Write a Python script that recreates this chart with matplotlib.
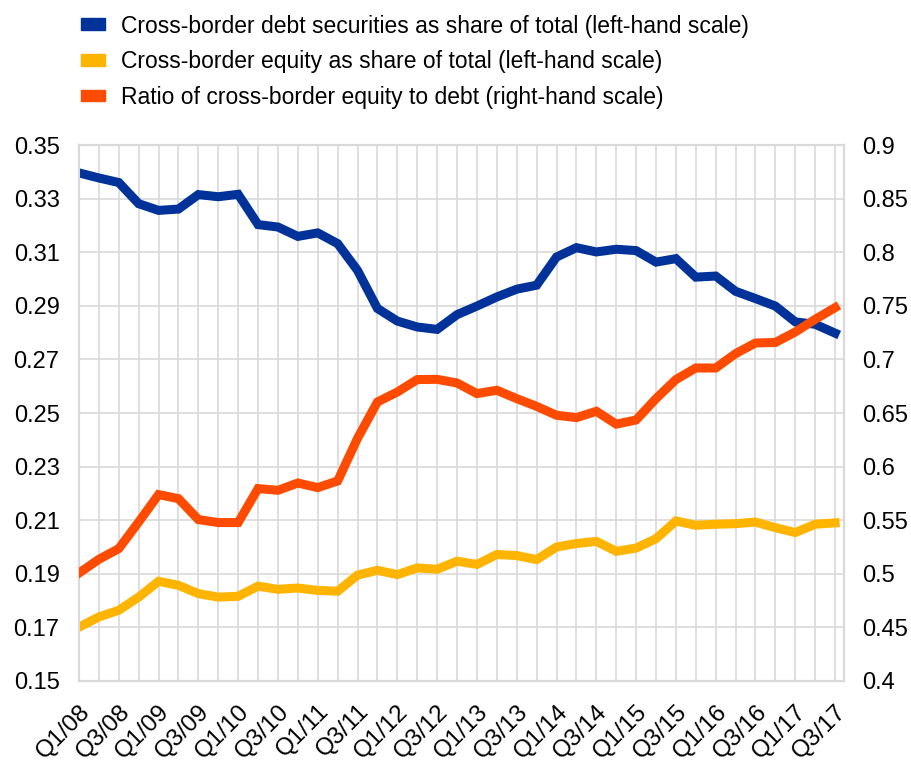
import matplotlib
matplotlib.use("Agg")
import numpy as np
import matplotlib.pyplot as plt
from matplotlib.patches import Patch

plt.rcParams['font.family'] = ['Liberation Sans', 'DejaVu Sans']

# quarters Q1/08 .. Q3/17
quarters = [f"Q{q}/{y:02d}" for y in range(8, 18) for q in range(1, 5)][:39]

debt_share = [0.3396, 0.3377, 0.3360, 0.3281, 0.3256, 0.3261, 0.3315, 0.3307, 0.3316, 0.3203,
              0.3194, 0.3159, 0.3172, 0.3132, 0.3032, 0.2890, 0.2843, 0.2821, 0.2812, 0.2867,
              0.2899, 0.2933, 0.2962, 0.2977, 0.3082, 0.3117, 0.3101, 0.3111, 0.3106, 0.3063,
              0.3076, 0.3007, 0.3011, 0.2954, 0.2927, 0.2899, 0.2840, 0.2831, 0.2798]

equity_share = [0.1701, 0.1739, 0.1764, 0.1813, 0.1872, 0.1857, 0.1826, 0.1813, 0.1816, 0.1854,
                0.1842, 0.1847, 0.1838, 0.1835, 0.1895, 0.1913, 0.1897, 0.1922, 0.1917, 0.1947,
                0.1935, 0.1972, 0.1968, 0.1953, 0.2000, 0.2013, 0.2021, 0.1984, 0.1996, 0.2031,
                0.2097, 0.2081, 0.2085, 0.2087, 0.2093, 0.2072, 0.2054, 0.2085, 0.2090]

ratio = [0.5007, 0.5135, 0.5235, 0.5483, 0.5739, 0.5701, 0.5506, 0.5478, 0.5478, 0.5795,
         0.5779, 0.5847, 0.5804, 0.5866, 0.6264, 0.6603, 0.6696, 0.6812, 0.6814, 0.6780,
         0.6681, 0.6712, 0.6634, 0.6562, 0.6479, 0.6457, 0.6516, 0.6396, 0.6435, 0.6634,
         0.6812, 0.6920, 0.6920, 0.7054, 0.7153, 0.7158, 0.7256, 0.7374, 0.7483]

labels = ["Cross-border debt securities as share of total (left-hand scale)",
          "Cross-border equity as share of total (left-hand scale)",
          "Ratio of cross-border equity to debt (right-hand scale)"]
colors = ["#003299", "#FFB400", "#FF4B00"]

left_ticks = np.arange(0.15, 0.351, 0.02)
right_ticks = np.arange(0.40, 0.901, 0.05)

fig = plt.figure(figsize=(9.11, 7.62), dpi=100)
ax = fig.add_axes([0.0867, 0.1063, 0.8398, 0.7034])
ax2 = ax.twinx()

x = np.arange(len(quarters))
lw = 6.5
ax.plot(x, debt_share, color=colors[0], lw=lw, solid_joinstyle='miter', zorder=3)
ax.plot(x, equity_share, color=colors[1], lw=lw, solid_joinstyle='miter', zorder=3)
ax2.plot(x, ratio, color=colors[2], lw=lw, solid_joinstyle='miter', zorder=3)

ax.set_xlim(0, 38.45)
ax.set_ylim(0.15, 0.35)
ax2.set_ylim(0.4, 0.9)
ax.set_yticks(left_ticks)
ax.set_yticklabels([f"{v:.2f}" for v in left_ticks])
ax2.set_yticks(right_ticks)
ax2.set_yticklabels([f"{v:g}" for v in np.round(right_ticks, 2)])

ax.set_xticks(x)
ax.set_xticklabels([q if i % 2 == 0 else "" for i, q in enumerate(quarters)],
                   rotation=45, ha='right', rotation_mode='anchor')

ax.grid(True, color="#d9d9d9", lw=1.2, zorder=0)
ax.set_axisbelow(True)
for a in (ax, ax2):
    for s in a.spines.values():
        s.set_color("#d9d9d9")
        s.set_linewidth(1.5)
    a.tick_params(length=0, labelsize=17, colors="#000000")
ax.tick_params(axis='y', pad=14)
ax2.tick_params(axis='y', pad=13)
ax.tick_params(axis='x', pad=14, labelsize=17.5)

handles = [Patch(color=c) for c in colors]
fig.legend(handles, labels, loc='upper left', bbox_to_anchor=(0.066, 1.008),
           frameon=False, fontsize=16.5, handlelength=1.05, handleheight=0.42,
           handletextpad=0.7, labelspacing=0.55)

fig.savefig("out.png", dpi=100)
